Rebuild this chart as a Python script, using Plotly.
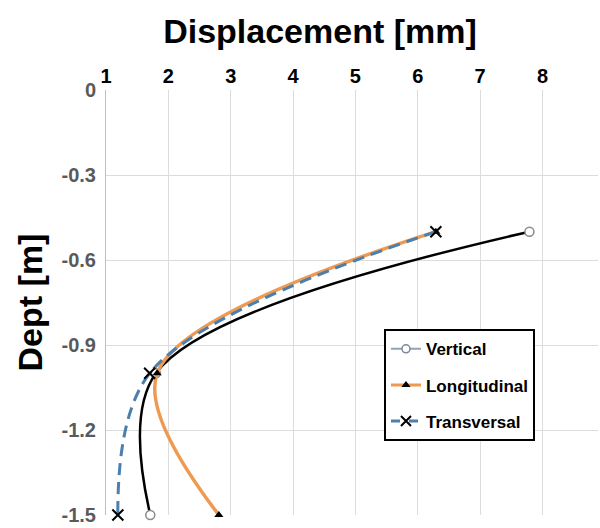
import plotly.graph_objects as go

depth = [-0.5, -1.0, -1.5]
vertical = [7.79, 1.8, 1.71]
longitudinal = [6.29, 1.82, 2.81]
transversal = [6.29, 1.7, 1.19]

x_ticks = [1, 2, 3, 4, 5, 6, 7, 8]
y_ticks = [0, -0.3, -0.6, -0.9, -1.2, -1.5]

fig = go.Figure()

# data traces
fig.add_trace(go.Scatter(x=vertical, y=depth, mode="lines+markers", name="Vertical",
                         line=dict(color="black", width=2.5, shape="spline", smoothing=1.0),
                         marker=dict(symbol="circle", size=9, color="white",
                                     line=dict(color="#8a8a8a", width=1.5)),
                         cliponaxis=False, showlegend=False))
fig.add_trace(go.Scatter(x=longitudinal, y=depth, mode="lines+markers", name="Longitudinal",
                         line=dict(color="#ef9a52", width=3.5, shape="spline", smoothing=1.0),
                         marker=dict(symbol="triangle-up", size=8, color="black"),
                         cliponaxis=False, showlegend=False))
fig.add_trace(go.Scatter(x=transversal, y=depth, mode="lines+markers", name="Transversal",
                         line=dict(color="#4a7fae", width=3, dash="12px,7px", shape="spline", smoothing=1.0),
                         marker=dict(symbol="x-thin", size=11, color="black",
                                     line=dict(color="black", width=2)),
                         cliponaxis=False, showlegend=False))

# legend entries
fig.add_trace(go.Scatter(x=[None], y=[None], mode="lines+markers", name="Vertical",
                         legendgroup="a",
                         line=dict(color="#8fa3b5", width=2),
                         marker=dict(symbol="circle", size=8, color="white",
                                     line=dict(color="#7a8a99", width=1.5))))
fig.add_trace(go.Scatter(x=[None], y=[None], mode="lines+markers", name="Longitudinal",
                         legendgroup="b",
                         line=dict(color="#ef9a52", width=3),
                         marker=dict(symbol="triangle-up", size=8, color="black")))
fig.add_trace(go.Scatter(x=[None], y=[None], mode="lines+markers", name="Transversal",
                         legendgroup="c",
                         line=dict(color="#4a7fae", width=3, dash="dash"),
                         marker=dict(symbol="x-thin", size=10, color="black",
                                     line=dict(color="black", width=2))))

fig.update_layout(
    width=600, height=528,
    margin=dict(l=106, r=2, t=90, b=11),
    plot_bgcolor="white", paper_bgcolor="white",
    font=dict(family="Arial", color="black"),
    title=dict(text="<b>Displacement [mm]</b>", x=320 / 600, xanchor="center",
               xref="container", yref="container", y=1 - 31 / 528, yanchor="middle",
               font=dict(family="Arial", size=34, color="black")),
    legend=dict(x=0.565, y=0.437, xanchor="left", yanchor="top",
                bordercolor="black", borderwidth=2, bgcolor="white",
                font=dict(family="Arial", size=17, color="black", weight="bold"),
                itemwidth=30, tracegroupgap=11),
)
fig.update_xaxes(
    side="top", range=[1, 8.89], tickvals=x_ticks,
    ticktext=[str(v) for v in x_ticks],
    tickfont=dict(family="Arial", size=20, color="black", weight="bold"),
    ticklabelstandoff=2,
    showgrid=True, gridcolor="#dcdcdc", gridwidth=1,
    zeroline=False, showline=False, ticks="",
)
fig.update_yaxes(
    range=[-1.5, 0], tickvals=y_ticks,
    ticktext=["0", "-0.3", "-0.6", "-0.9", "-1.2", "-1.5"],
    tickfont=dict(family="Liberation Sans", size=20, color="#5a5a5a", weight="bold"),
    ticklabelstandoff=5,
    showgrid=True, gridcolor="#dcdcdc", gridwidth=1,
    zeroline=False, showline=True, linecolor="#bfbfbf", linewidth=1, ticks="",
    title=dict(text="<b>Dept [m]</b>", font=dict(family="Arial", size=34, color="black"),
               standoff=8),
)

fig.write_html("out.html")
